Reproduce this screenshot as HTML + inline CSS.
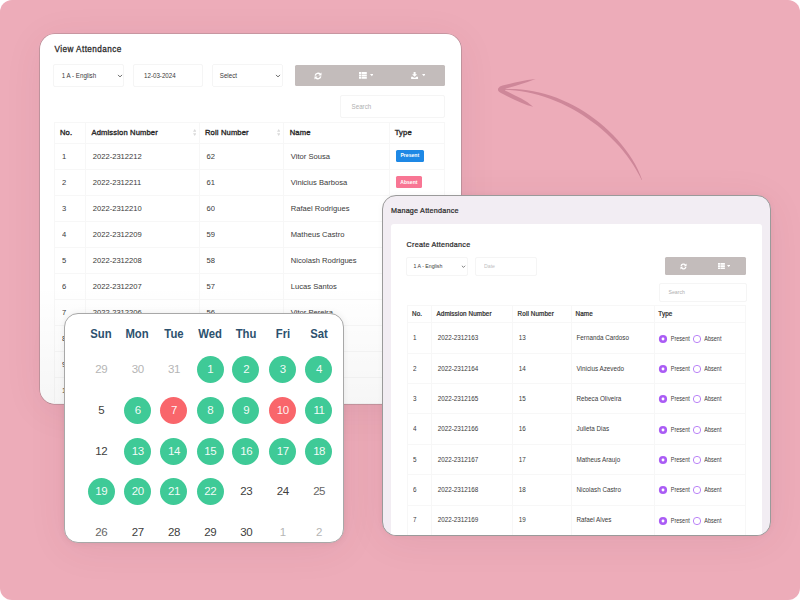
<!DOCTYPE html><html><head><meta charset="utf-8"><title>Attendance</title><style>
*{box-sizing:border-box;margin:0;padding:0}
html,body{width:800px;height:600px;overflow:hidden;background:#fff;font-family:"Liberation Sans",sans-serif;}
.bg{position:absolute;left:0;top:0;width:800px;height:600px;background:#edacb9;border-radius:12px;overflow:hidden}
.abs{position:absolute}
.sh{position:absolute;border-radius:15px;box-shadow:0 6px 40px rgba(90,30,55,.065)}
.ring{box-shadow:0 6px 40px rgba(90,30,55,.065),0 0 0 .6px rgba(110,110,110,.55)}
.c1{position:absolute;left:40px;top:34.4px;width:421.3px;height:369.7px;background:#fff;border-radius:15px;overflow:hidden;color:#333}
.c1 .t{position:absolute;white-space:nowrap;transform:scaleY(1.06);font-size:7.6px;line-height:10px;color:#3a3a3a}
.c1 .b{font-weight:normal;color:#2a2a2a;-webkit-text-stroke:0.35px #2a2a2a;letter-spacing:.14px}
.box{position:absolute;border:1px solid #f5f5f5;border-radius:2px;background:#fff}
.hl{position:absolute;height:1px;background:#f7f7f7}
.vl{position:absolute;width:1px;background:#f7f7f7}
.c2{position:absolute;left:382px;top:195px;width:389px;height:341px;background:#f2edf3;border-radius:14px;overflow:hidden;border:1px solid #9a9a9a;color:#333;box-shadow:0 0 6px rgba(0,0,0,.04)}
.c2 .t{position:absolute;white-space:nowrap;transform:scaleY(1.06);font-size:6.3px;line-height:8px;color:#3a3a3a}
.c2 .lb{font-size:5.5px;transform:scaleY(1.14)}
.c2 .b{font-weight:normal;color:#2a2a2a;-webkit-text-stroke:0.22px #2a2a2a;letter-spacing:.12px}
.cal{position:absolute;left:64px;top:312.6px;width:280px;height:230.4px;background:#fff;border-radius:14px;overflow:hidden;border:1px solid #a8a8a8;box-shadow:0 0 7px rgba(0,0,0,.07)}
.cal .h{position:absolute;width:40px;text-align:center;font-weight:bold;font-size:13px;line-height:16px;color:#2c516e;transform:scaleX(.87)}
.cal .d{position:absolute;width:27px;height:27px;border-radius:50%;text-align:center;font-size:11.5px;line-height:27.6px;color:#404040;letter-spacing:-.5px;padding-left:.5px}
.cal .g{background:#3fca97;color:rgba(255,255,255,.94)}
.cal .r{background:#f9666b;color:rgba(255,255,255,.94)}
.cal .o{color:#b5b5b5}
.cal .m{color:#666}
</style></head><body><div class="bg">
<svg class="abs" style="left:480px;top:60px" width="200" height="140" viewBox="480 60 200 140">
<path d="M504.0 90.0 L509.8 90.1 L515.5 90.5 L521.3 91.3 L527.1 92.2 L532.8 93.5 L538.6 95.0 L544.2 96.7 L549.9 98.7 L555.5 100.9 L561.0 103.3 L566.5 105.9 L571.9 108.8 L577.2 111.8 L582.4 115.0 L587.5 118.4 L592.4 121.9 L597.3 125.6 L602.0 129.5 L606.5 133.5 L610.9 137.7 L615.1 141.9 L619.2 146.3 L623.0 150.8 L626.7 155.5 L630.1 160.2 L633.3 165.1 L636.3 170.0 L639.1 175.0 L641.7 180.1 L642.1 179.9 L640.0 174.6 L637.7 169.3 L635.0 164.1 L632.0 159.0 L628.7 154.0 L625.2 149.2 L621.5 144.4 L617.5 139.8 L613.3 135.2 L608.9 130.9 L604.3 126.7 L599.6 122.7 L594.7 118.9 L589.6 115.2 L584.4 111.8 L579.1 108.6 L573.6 105.5 L568.1 102.7 L562.4 100.2 L556.7 97.8 L550.9 95.8 L545.1 94.0 L539.2 92.4 L533.3 91.2 L527.4 90.2 L521.5 89.5 L515.6 89.1 L509.8 89.0 L504.0 89.2Z" fill="#ce8799"/>
<path d="M535.6 79 L527.5 80 L515 82.5 L502.5 85.6 Q499.5 86.4 498.3 88.3 Q497.5 89.7 498.6 91.3 Q499.3 92.2 500.5 92.8 L508.75 96.9 L515 100 L521.25 102.75 L527.5 105.25 L533.1 106.8 L527.5 102.25 L521.25 98.5 L515 95.4 L508.75 92.25 L505 90.4 L505.6 88.75 L508.75 87.75 L515 86 L521.25 84 L527.5 82.1 Z" fill="#ce8799"/>
</svg>
<div class="sh" style="left:382px;top:195px;width:389px;height:340px"></div>
<div class="sh" style="left:64px;top:312.6px;width:280px;height:230.4px"></div>
<div class="sh ring" style="left:40px;top:34.4px;width:421.3px;height:369.7px"></div>
<div class="c1">
<div class="t b" style="left:14.40px;top:10.60px;font-size:8.2px;letter-spacing:.44px;transform:none;-webkit-text-stroke-width:.27px">View Attendance</div>
<div class="box" style="left:13.00px;top:29.60px;width:71.00px;height:23.00px;"></div>
<div class="t " style="left:21.75px;top:36.80px;font-size:6.2px">1 A - English</div>
<div class="box" style="left:93.00px;top:29.60px;width:70.00px;height:23.00px;"></div>
<div class="t " style="left:104.00px;top:36.80px;font-size:6.2px">12-03-2024</div>
<div class="box" style="left:172.00px;top:29.60px;width:71.00px;height:23.00px;"></div>
<div class="t " style="left:179.75px;top:36.80px;font-size:6.2px">Select</div>
<svg class="abs" style="left:76.50px;top:39.40px" width="6" height="4" viewBox="0 0 6 4"><path d="M1 0.9 L3 2.9 L5 0.9" fill="none" stroke="#555" stroke-width="0.9"/></svg>
<svg class="abs" style="left:234.80px;top:39.40px" width="6" height="4" viewBox="0 0 6 4"><path d="M1 0.9 L3 2.9 L5 0.9" fill="none" stroke="#555" stroke-width="0.9"/></svg>
<div class="abs" style="left:254.8px;top:30.6px;width:149.8px;height:21px;background:#c3bcbb;border-radius:1.5px"></div>
<div class="abs" style="left:299.4px;top:30.199999999999996px;width:53.6px;height:21.8px;background:#c3bcbb;border-radius:1px"></div>
<svg class="abs" style="left:273.50px;top:37.30px" width="8" height="8" viewBox="0 0 16 16"><path d="M2.6 7.2A5.5 5.5 0 0 1 12.3 4.6M13.4 8.8A5.5 5.5 0 0 1 3.7 11.4" fill="none" stroke="#fff" stroke-width="3"/><path d="M15 1v6.2H8.8zM1 15V8.8h6.2z" fill="#fff"/></svg>
<svg class="abs" style="left:318.80px;top:37.70px" width="7.8" height="6.8" viewBox="0 0 16 13" preserveAspectRatio="none"><path d="M0 0h4.6v3.7H0zM5.6 0H16v3.7H5.6zM0 4.65h4.6v3.7H0zM5.6 4.65H16v3.7H5.6zM0 9.3h4.6v3.7H0zM5.6 9.3H16v3.7H5.6z" fill="#fff"/></svg>
<svg class="abs" style="left:329.90px;top:40.10px" width="3.6" height="2.3" viewBox="0 0 8 4" preserveAspectRatio="none"><path d="M0 0h8L4 4z" fill="#fff"/></svg>
<svg class="abs" style="left:371.00px;top:37.20px" width="7.2" height="7.2" viewBox="0 0 16 16"><path d="M5.8 0h4.4v5.2h3.4L8 10.8 2.4 5.2h3.4zM0.3 10.6h3.9l2.4 2.4h2.8l2.4-2.4h3.9V16H0.3z" fill="#fff"/></svg>
<svg class="abs" style="left:381.90px;top:40.10px" width="3.6" height="2.3" viewBox="0 0 8 4" preserveAspectRatio="none"><path d="M0 0h8L4 4z" fill="#fff"/></svg>
<div class="box" style="left:300.00px;top:60.60px;width:105.00px;height:23.00px;"></div>
<div class="t " style="left:311.60px;top:67.20px;font-size:6.2px;color:#b0b0b0">Search</div>
<div class="hl" style="left:14px;top:87.6px;width:391px"></div>
<div class="hl" style="left:14px;top:108.6px;width:391px"></div>
<div class="hl" style="left:14px;top:134.6px;width:391px"></div>
<div class="hl" style="left:14px;top:160.6px;width:391px"></div>
<div class="hl" style="left:14px;top:186.6px;width:391px"></div>
<div class="hl" style="left:14px;top:212.6px;width:391px"></div>
<div class="hl" style="left:14px;top:238.6px;width:391px"></div>
<div class="hl" style="left:14px;top:264.6px;width:391px"></div>
<div class="hl" style="left:14px;top:290.6px;width:391px"></div>
<div class="hl" style="left:14px;top:316.6px;width:391px"></div>
<div class="hl" style="left:14px;top:342.6px;width:391px"></div>
<div class="hl" style="left:14px;top:368.6px;width:391px"></div>
<div class="vl" style="left:14.00px;top:87.6px;height:300px"></div>
<div class="vl" style="left:45.00px;top:87.6px;height:300px"></div>
<div class="vl" style="left:159.00px;top:87.6px;height:300px"></div>
<div class="vl" style="left:243.00px;top:87.6px;height:300px"></div>
<div class="vl" style="left:349.00px;top:87.6px;height:300px"></div>
<div class="vl" style="left:404.00px;top:87.6px;height:300px"></div>
<div class="t b" style="left:20.00px;top:93.70px;">No.</div>
<div class="t b" style="left:51.50px;top:93.70px;">Admission Number</div>
<div class="t b" style="left:165.00px;top:93.70px;">Roll Number</div>
<div class="t b" style="left:249.75px;top:93.70px;">Name</div>
<div class="t b" style="left:354.75px;top:93.70px;">Type</div>
<svg class="abs" style="left:152.50px;top:94.90px" width="3.4" height="7" viewBox="0 0 4 8"><path d="M2 0L4 3H0zM2 8L0 5h4z" fill="#dadada"/></svg>
<svg class="abs" style="left:237.00px;top:94.90px" width="3.4" height="7" viewBox="0 0 4 8"><path d="M2 0L4 3H0zM2 8L0 5h4z" fill="#dadada"/></svg>
<div class="t " style="left:22.00px;top:117.30px;">1</div>
<div class="t " style="left:52.75px;top:117.30px;">2022-2312212</div>
<div class="t " style="left:166.50px;top:117.30px;">62</div>
<div class="t " style="left:250.80px;top:117.30px;">Vitor Sousa</div>
<div class="t " style="left:22.00px;top:143.30px;">2</div>
<div class="t " style="left:52.75px;top:143.30px;">2022-2312211</div>
<div class="t " style="left:166.50px;top:143.30px;">61</div>
<div class="t " style="left:250.80px;top:143.30px;">Vinicius Barbosa</div>
<div class="t " style="left:22.00px;top:169.30px;">3</div>
<div class="t " style="left:52.75px;top:169.30px;">2022-2312210</div>
<div class="t " style="left:166.50px;top:169.30px;">60</div>
<div class="t " style="left:250.80px;top:169.30px;">Rafael Rodrigues</div>
<div class="t " style="left:22.00px;top:195.30px;">4</div>
<div class="t " style="left:52.75px;top:195.30px;">2022-2312209</div>
<div class="t " style="left:166.50px;top:195.30px;">59</div>
<div class="t " style="left:250.80px;top:195.30px;">Matheus Castro</div>
<div class="t " style="left:22.00px;top:221.30px;">5</div>
<div class="t " style="left:52.75px;top:221.30px;">2022-2312208</div>
<div class="t " style="left:166.50px;top:221.30px;">58</div>
<div class="t " style="left:250.80px;top:221.30px;">Nicolash Rodrigues</div>
<div class="t " style="left:22.00px;top:247.30px;">6</div>
<div class="t " style="left:52.75px;top:247.30px;">2022-2312207</div>
<div class="t " style="left:166.50px;top:247.30px;">57</div>
<div class="t " style="left:250.80px;top:247.30px;">Lucas Santos</div>
<div class="t " style="left:22.00px;top:273.30px;">7</div>
<div class="t " style="left:52.75px;top:273.30px;">2022-2312206</div>
<div class="t " style="left:166.50px;top:273.30px;">56</div>
<div class="t " style="left:250.80px;top:273.30px;">Vitor Pereira</div>
<div class="t " style="left:22.00px;top:299.30px;">8</div>
<div class="t " style="left:52.75px;top:299.30px;">2022-2312205</div>
<div class="t " style="left:166.50px;top:299.30px;">55</div>
<div class="t " style="left:250.80px;top:299.30px;">Ana Lima</div>
<div class="t " style="left:22.00px;top:325.30px;">9</div>
<div class="t " style="left:52.75px;top:325.30px;">2022-2312204</div>
<div class="t " style="left:166.50px;top:325.30px;">54</div>
<div class="t " style="left:250.80px;top:325.30px;">Joao Melo</div>
<div class="t " style="left:22.00px;top:351.30px;">10</div>
<div class="t " style="left:52.75px;top:351.30px;">2022-2312203</div>
<div class="t " style="left:166.50px;top:351.30px;">53</div>
<div class="t " style="left:250.80px;top:351.30px;">Caio Reis</div>
<div class="abs" style="left:355.8px;top:115.6px;width:28px;height:11.7px;background:#1e88e5;border-radius:1.5px;color:#fff;font-size:5.1px;line-height:11.7px;text-align:center;font-weight:bold">Present</div>
<div class="abs" style="left:355.8px;top:141.9px;width:26.2px;height:11.6px;background:#f87694;border-radius:1.5px;color:#fff;font-size:5.1px;line-height:12.6px;text-align:center;font-weight:bold">Absent</div>
<div class="abs" style="left:0;top:250px;width:100%;height:120px;background:linear-gradient(to bottom,rgba(0,0,0,0),rgba(0,0,0,.035))"></div>
</div>
<div class="c2">
<div class="t b" style="left:8.00px;top:10.60px;font-size:7.2px;letter-spacing:.22px">Manage Attendance</div>
<div class="abs" style="left:8px;top:28.30000000000001px;width:370.5px;height:330px;background:#fff;border-radius:3px"></div>
<div class="t b" style="left:23.60px;top:45.20px;font-size:7.2px;letter-spacing:.25px">Create Attendance</div>
<div class="box" style="left:23.00px;top:61.00px;width:62.00px;height:19.00px;"></div>
<div class="t " style="left:30.50px;top:66.40px;font-size:5.2px">1 A - English</div>
<svg class="abs" style="left:78.30px;top:69.00px" width="5" height="3.3" viewBox="0 0 6 4"><path d="M1 0.9 L3 2.9 L5 0.9" fill="none" stroke="#555" stroke-width="0.9"/></svg>
<div class="box" style="left:92.00px;top:61.00px;width:62.00px;height:19.00px;"></div>
<div class="t " style="left:101.00px;top:66.40px;font-size:5.2px;color:#c0c0c0">Date</div>
<div class="abs" style="left:282px;top:61.30000000000001px;width:81px;height:17.7px;background:#c3bcbb;border-radius:1.5px"></div>
<svg class="abs" style="left:297.20px;top:67.00px" width="7" height="7" viewBox="0 0 16 16"><path d="M2.6 7.2A5.5 5.5 0 0 1 12.3 4.6M13.4 8.8A5.5 5.5 0 0 1 3.7 11.4" fill="none" stroke="#fff" stroke-width="3"/><path d="M15 1v6.2H8.8zM1 15V8.8h6.2z" fill="#fff"/></svg>
<svg class="abs" style="left:334.95px;top:67.10px" width="6.9" height="6.2" viewBox="0 0 16 13" preserveAspectRatio="none"><path d="M0 0h4.6v3.7H0zM5.6 0H16v3.7H5.6zM0 4.65h4.6v3.7H0zM5.6 4.65H16v3.7H5.6zM0 9.3h4.6v3.7H0zM5.6 9.3H16v3.7H5.6z" fill="#fff"/></svg>
<svg class="abs" style="left:344.00px;top:69.20px" width="3.4" height="2.1" viewBox="0 0 8 4" preserveAspectRatio="none"><path d="M0 0h8L4 4z" fill="#fff"/></svg>
<div class="box" style="left:276.00px;top:87.00px;width:88.00px;height:19.00px;"></div>
<div class="t " style="left:285.50px;top:92.40px;font-size:5.2px;color:#b0b0b0">Search</div>
<div class="hl" style="left:24.00px;top:109.20px;width:339.00px"></div>
<div class="hl" style="left:24.00px;top:126.40px;width:339.00px"></div>
<div class="hl" style="left:24.00px;top:156.75px;width:339.00px"></div>
<div class="hl" style="left:24.00px;top:187.10px;width:339.00px"></div>
<div class="hl" style="left:24.00px;top:217.45px;width:339.00px"></div>
<div class="hl" style="left:24.00px;top:247.80px;width:339.00px"></div>
<div class="hl" style="left:24.00px;top:278.15px;width:339.00px"></div>
<div class="hl" style="left:24.00px;top:308.50px;width:339.00px"></div>
<div class="hl" style="left:24.00px;top:338.85px;width:339.00px"></div>
<div class="vl" style="left:24.00px;top:109.20px;height:300px"></div>
<div class="vl" style="left:48.00px;top:109.20px;height:300px"></div>
<div class="vl" style="left:129.00px;top:109.20px;height:300px"></div>
<div class="vl" style="left:188.00px;top:109.20px;height:300px"></div>
<div class="vl" style="left:271.00px;top:109.20px;height:300px"></div>
<div class="vl" style="left:362.00px;top:109.20px;height:300px"></div>
<div class="t b" style="left:29.00px;top:114.30px;">No.</div>
<div class="t b" style="left:53.50px;top:114.30px;">Admission Number</div>
<div class="t b" style="left:134.60px;top:114.30px;">Roll Number</div>
<div class="t b" style="left:192.50px;top:114.30px;">Name</div>
<div class="t b" style="left:275.30px;top:114.30px;">Type</div>
<div class="t " style="left:30.00px;top:138.20px;">1</div>
<div class="t " style="left:54.70px;top:138.20px;">2022-2312163</div>
<div class="t " style="left:135.70px;top:138.20px;">13</div>
<div class="t " style="left:193.50px;top:138.20px;">Fernanda Cardoso</div>
<svg class="abs" style="left:275.20px;top:137.60px" width="10" height="10" viewBox="0 0 10 10"><circle cx="5" cy="5" r="4.1" fill="#aa5cf5"/><circle cx="5" cy="5" r="1.45" fill="#fff"/></svg>
<div class="t lb" style="left:287.80px;top:138.60px;">Present</div>
<svg class="abs" style="left:309.10px;top:137.60px" width="10" height="10" viewBox="0 0 10 10"><circle cx="5" cy="5" r="3.65" fill="#fff" stroke="#b477f6" stroke-width="0.9"/></svg>
<div class="t lb" style="left:321.30px;top:138.60px;">Absent</div>
<div class="t " style="left:30.00px;top:168.55px;">2</div>
<div class="t " style="left:54.70px;top:168.55px;">2022-2312164</div>
<div class="t " style="left:135.70px;top:168.55px;">14</div>
<div class="t " style="left:193.50px;top:168.55px;">Vinicius Azevedo</div>
<svg class="abs" style="left:275.20px;top:167.95px" width="10" height="10" viewBox="0 0 10 10"><circle cx="5" cy="5" r="4.1" fill="#aa5cf5"/><circle cx="5" cy="5" r="1.45" fill="#fff"/></svg>
<div class="t lb" style="left:287.80px;top:168.95px;">Present</div>
<svg class="abs" style="left:309.10px;top:167.95px" width="10" height="10" viewBox="0 0 10 10"><circle cx="5" cy="5" r="3.65" fill="#fff" stroke="#b477f6" stroke-width="0.9"/></svg>
<div class="t lb" style="left:321.30px;top:168.95px;">Absent</div>
<div class="t " style="left:30.00px;top:198.90px;">3</div>
<div class="t " style="left:54.70px;top:198.90px;">2022-2312165</div>
<div class="t " style="left:135.70px;top:198.90px;">15</div>
<div class="t " style="left:193.50px;top:198.90px;">Rebeca Oliveira</div>
<svg class="abs" style="left:275.20px;top:198.30px" width="10" height="10" viewBox="0 0 10 10"><circle cx="5" cy="5" r="4.1" fill="#aa5cf5"/><circle cx="5" cy="5" r="1.45" fill="#fff"/></svg>
<div class="t lb" style="left:287.80px;top:199.30px;">Present</div>
<svg class="abs" style="left:309.10px;top:198.30px" width="10" height="10" viewBox="0 0 10 10"><circle cx="5" cy="5" r="3.65" fill="#fff" stroke="#b477f6" stroke-width="0.9"/></svg>
<div class="t lb" style="left:321.30px;top:199.30px;">Absent</div>
<div class="t " style="left:30.00px;top:229.25px;">4</div>
<div class="t " style="left:54.70px;top:229.25px;">2022-2312166</div>
<div class="t " style="left:135.70px;top:229.25px;">16</div>
<div class="t " style="left:193.50px;top:229.25px;">Julieta Dias</div>
<svg class="abs" style="left:275.20px;top:228.65px" width="10" height="10" viewBox="0 0 10 10"><circle cx="5" cy="5" r="4.1" fill="#aa5cf5"/><circle cx="5" cy="5" r="1.45" fill="#fff"/></svg>
<div class="t lb" style="left:287.80px;top:229.65px;">Present</div>
<svg class="abs" style="left:309.10px;top:228.65px" width="10" height="10" viewBox="0 0 10 10"><circle cx="5" cy="5" r="3.65" fill="#fff" stroke="#b477f6" stroke-width="0.9"/></svg>
<div class="t lb" style="left:321.30px;top:229.65px;">Absent</div>
<div class="t " style="left:30.00px;top:259.60px;">5</div>
<div class="t " style="left:54.70px;top:259.60px;">2022-2312167</div>
<div class="t " style="left:135.70px;top:259.60px;">17</div>
<div class="t " style="left:193.50px;top:259.60px;">Matheus Araujo</div>
<svg class="abs" style="left:275.20px;top:259.00px" width="10" height="10" viewBox="0 0 10 10"><circle cx="5" cy="5" r="4.1" fill="#aa5cf5"/><circle cx="5" cy="5" r="1.45" fill="#fff"/></svg>
<div class="t lb" style="left:287.80px;top:260.00px;">Present</div>
<svg class="abs" style="left:309.10px;top:259.00px" width="10" height="10" viewBox="0 0 10 10"><circle cx="5" cy="5" r="3.65" fill="#fff" stroke="#b477f6" stroke-width="0.9"/></svg>
<div class="t lb" style="left:321.30px;top:260.00px;">Absent</div>
<div class="t " style="left:30.00px;top:289.95px;">6</div>
<div class="t " style="left:54.70px;top:289.95px;">2022-2312168</div>
<div class="t " style="left:135.70px;top:289.95px;">18</div>
<div class="t " style="left:193.50px;top:289.95px;">Nicolash Castro</div>
<svg class="abs" style="left:275.20px;top:289.35px" width="10" height="10" viewBox="0 0 10 10"><circle cx="5" cy="5" r="4.1" fill="#aa5cf5"/><circle cx="5" cy="5" r="1.45" fill="#fff"/></svg>
<div class="t lb" style="left:287.80px;top:290.35px;">Present</div>
<svg class="abs" style="left:309.10px;top:289.35px" width="10" height="10" viewBox="0 0 10 10"><circle cx="5" cy="5" r="3.65" fill="#fff" stroke="#b477f6" stroke-width="0.9"/></svg>
<div class="t lb" style="left:321.30px;top:290.35px;">Absent</div>
<div class="t " style="left:30.00px;top:320.30px;">7</div>
<div class="t " style="left:54.70px;top:320.30px;">2022-2312169</div>
<div class="t " style="left:135.70px;top:320.30px;">19</div>
<div class="t " style="left:193.50px;top:320.30px;">Rafael Alves</div>
<svg class="abs" style="left:275.20px;top:319.70px" width="10" height="10" viewBox="0 0 10 10"><circle cx="5" cy="5" r="4.1" fill="#aa5cf5"/><circle cx="5" cy="5" r="1.45" fill="#fff"/></svg>
<div class="t lb" style="left:287.80px;top:320.70px;">Present</div>
<svg class="abs" style="left:309.10px;top:319.70px" width="10" height="10" viewBox="0 0 10 10"><circle cx="5" cy="5" r="3.65" fill="#fff" stroke="#b477f6" stroke-width="0.9"/></svg>
<div class="t lb" style="left:321.30px;top:320.70px;">Absent</div>
</div>
<div class="cal">
<div class="h" style="left:16.00px;top:12.40px">Sun</div>
<div class="h" style="left:52.40px;top:12.40px">Mon</div>
<div class="h" style="left:88.70px;top:12.40px">Tue</div>
<div class="h" style="left:125.00px;top:12.40px">Wed</div>
<div class="h" style="left:160.90px;top:12.40px">Thu</div>
<div class="h" style="left:197.50px;top:12.40px">Fri</div>
<div class="h" style="left:233.80px;top:12.40px">Sat</div>
<div class="d o" style="left:22.50px;top:42.60px">29</div>
<div class="d o" style="left:58.90px;top:42.60px">30</div>
<div class="d o" style="left:95.20px;top:42.60px">31</div>
<div class="d g" style="left:131.50px;top:42.60px">1</div>
<div class="d g" style="left:167.40px;top:42.60px">2</div>
<div class="d g" style="left:204.00px;top:42.60px">3</div>
<div class="d g" style="left:240.30px;top:42.60px">4</div>
<div class="d " style="left:22.50px;top:83.20px">5</div>
<div class="d g" style="left:58.90px;top:83.20px">6</div>
<div class="d r" style="left:95.20px;top:83.20px">7</div>
<div class="d g" style="left:131.50px;top:83.20px">8</div>
<div class="d g" style="left:167.40px;top:83.20px">9</div>
<div class="d r" style="left:204.00px;top:83.20px">10</div>
<div class="d g" style="left:240.30px;top:83.20px">11</div>
<div class="d " style="left:22.50px;top:124.10px">12</div>
<div class="d g" style="left:58.90px;top:124.10px">13</div>
<div class="d g" style="left:95.20px;top:124.10px">14</div>
<div class="d g" style="left:131.50px;top:124.10px">15</div>
<div class="d g" style="left:167.40px;top:124.10px">16</div>
<div class="d g" style="left:204.00px;top:124.10px">17</div>
<div class="d g" style="left:240.30px;top:124.10px">18</div>
<div class="d g" style="left:22.50px;top:164.80px">19</div>
<div class="d g" style="left:58.90px;top:164.80px">20</div>
<div class="d g" style="left:95.20px;top:164.80px">21</div>
<div class="d g" style="left:131.50px;top:164.80px">22</div>
<div class="d " style="left:167.40px;top:164.80px">23</div>
<div class="d " style="left:204.00px;top:164.80px">24</div>
<div class="d m" style="left:240.30px;top:164.80px">25</div>
<div class="d m" style="left:22.50px;top:205.40px">26</div>
<div class="d " style="left:58.90px;top:205.40px">27</div>
<div class="d " style="left:95.20px;top:205.40px">28</div>
<div class="d " style="left:131.50px;top:205.40px">29</div>
<div class="d " style="left:167.40px;top:205.40px">30</div>
<div class="d o" style="left:204.00px;top:205.40px">1</div>
<div class="d o" style="left:240.30px;top:205.40px">2</div>
</div>
</div></body></html>
